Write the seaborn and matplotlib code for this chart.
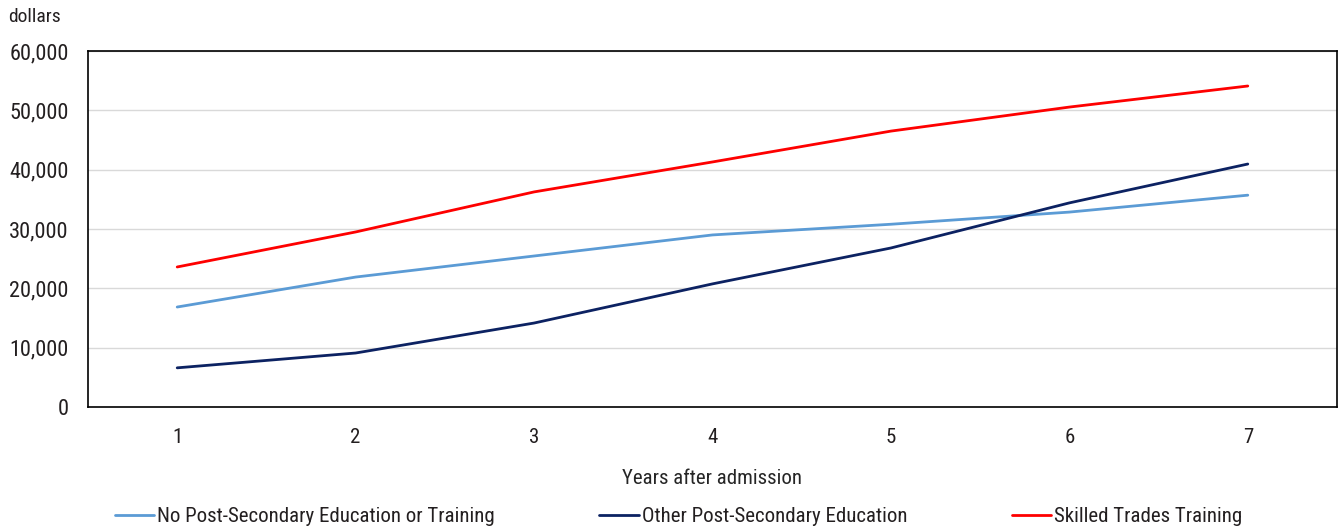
import numpy as np
import pandas as pd
import seaborn as sns
import matplotlib.pyplot as plt
from matplotlib.ticker import FuncFormatter, FixedLocator

years = [1, 2, 3, 4, 5, 6, 7]
no_post_secondary = [16850, 21900, 25450, 29000, 30800, 32850, 35700]
other_post_secondary = [6600, 9100, 14150, 20750, 26800, 34400, 40950]
skilled_trades = [23600, 29500, 36250, 41300, 46500, 50550, 54100]

series = ["No Post-Secondary Education or Training",
          "Other Post-Secondary Education",
          "Skilled Trades Training"]
colors = ["#5b9bd5", "#0c2262", "#fe0000"]

df = pd.DataFrame({
    "year": years * 3,
    "dollars": no_post_secondary + other_post_secondary + skilled_trades,
    "group": [series[0]] * 7 + [series[1]] * 7 + [series[2]] * 7,
})

sns.set_style("white")
plt.rcParams["font.family"] = ["Roboto Condensed", "Liberation Sans Narrow", "Roboto", "DejaVu Sans"]
plt.rcParams["font.stretch"] = "condensed"
plt.rcParams["text.color"] = "#231f20"

fig = plt.figure(figsize=(13.39, 5.29), dpi=100)
ax = fig.add_axes([88 / 1339, 122 / 529, 1249 / 1339, 356 / 529])

sns.lineplot(data=df, x="year", y="dollars", hue="group", hue_order=series,
             palette=colors, linewidth=2, ax=ax, legend=True)

ax.set_xlim(0.5, 7.5)
ax.set_ylim(0, 60000)
ax.yaxis.set_major_locator(FixedLocator(np.arange(0, 60001, 10000)))
ax.yaxis.set_major_formatter(FuncFormatter(lambda v, p: f"{int(v):,}"))
ax.set_xticks(years)
ax.set_xticks(np.arange(1.5, 7, 1), minor=True)
ax.tick_params(axis="x", which="major", length=0, pad=15, labelsize=15, colors="#231f20")
ax.tick_params(axis="x", which="minor", length=7, width=1, direction="in", color="black")
ax.tick_params(axis="y", length=0, pad=14, labelsize=16, colors="#231f20")
ax.grid(axis="y", color="#d9d9d9", linewidth=1)
ax.set_axisbelow(True)
for s in ax.spines.values():
    s.set_color("black")
    s.set_linewidth(1.2)

ax.set_xlabel("Years after admission", fontsize=15, labelpad=16)
ax.set_ylabel("")
fig.text(8 / 1339, 1 - 17 / 529, "dollars", fontsize=14, va="center", ha="left")

h, l = ax.get_legend_handles_labels()
ax.legend(h, l, loc="center", bbox_to_anchor=(0.4728, -0.308), ncol=3,
          frameon=False, fontsize=15, handlelength=1.9, handletextpad=0.15,
          columnspacing=5.0)

fig.savefig("out.png", dpi=100)
